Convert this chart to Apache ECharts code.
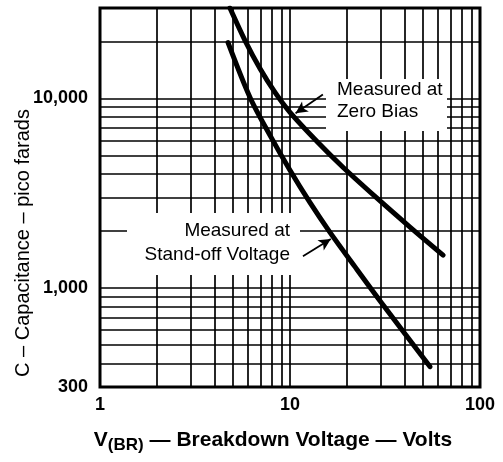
<!DOCTYPE html>
<html><head><meta charset="utf-8">
<script src="https://cdn.jsdelivr.net/npm/echarts@6/dist/echarts.min.js"></script>
<style>html,body{margin:0;padding:0;background:#fff}#c{width:503px;height:462px}</style>
</head><body><div id="c"></div>
<script>
// ---- data ----
const xTickValues = [1, 10, 100];
const xTickLabels = ['1', '10', '100'];
const yTickValues = [300, 1000, 10000];
const yTickLabels = ['300', '1,000', '10,000'];
const xGridValues = [2, 3, 4, 5, 6, 7, 8, 9, 10, 20, 30, 40, 50, 60, 70, 80, 90];
const yGridValues = [400, 500, 600, 700, 800, 900, 1000, 2000, 3000, 4000, 5000, 6000, 7000, 8000, 9000, 10000, 20000];
const zeroBiasV = [4.83, 5.8, 6.95, 8.34, 10, 14.0, 19.0, 28.7, 42.8, 63.9];
const zeroBiasC = [30000, 20200, 14380, 10750, 8440, 5867, 4334, 2976, 2095, 1490];
const standOffV = [4.72, 6.16, 7.85, 10, 12.7, 16.2, 22.0, 29.8, 54.6];
const standOffC = [19700, 10120, 6385, 4180, 2836, 1971, 1291, 854, 384];

const FONT = '"Liberation Sans", Arial, Helvetica, sans-serif';
const pair = (xs, ys) => xs.map((x, i) => [x, ys[i]]);
function fmt(values, labels) {
  return v => {
    for (let i = 0; i < values.length; i++) {
      if (Math.abs(v - values[i]) / values[i] < 1e-3) return labels[i];
    }
    return '';
  };
}
const gridLine = {color: '#000', width: 1.7, type: 'solid'};

const chart = echarts.init(document.getElementById('c'), null, {renderer: 'canvas'});
chart.setOption({
  animation: false,
  backgroundColor: '#fff',
  grid: {left: 100, right: 23, top: 8, bottom: 75, show: true, borderColor: '#000', borderWidth: 3, backgroundColor: 'transparent'},
  xAxis: {
    type: 'log', logBase: 10, min: 1, max: 100,
    axisLine: {show: false}, axisTick: {show: false}, splitLine: {show: false},
    axisLabel: {show: true, interval: 0, margin: 9, color: '#000', fontFamily: FONT, fontWeight: 'bold', fontSize: 18,
      formatter: fmt(xTickValues, xTickLabels), showMinLabel: true, showMaxLabel: true}
  },
  yAxis: {
    type: 'log', logBase: 10, min: 300, max: 30000,
    axisLine: {show: false}, axisTick: {show: false}, splitLine: {show: false},
    axisLabel: {show: true, interval: 0, margin: 12, color: '#000', fontFamily: FONT, fontWeight: 'bold', fontSize: 18,
      formatter: fmt(yTickValues, yTickLabels), showMinLabel: true, showMaxLabel: true}
  },
  series: [
    {
      name: 'grid', type: 'line', data: [], z: 1, silent: true,
      markLine: {
        silent: true, symbol: ['none', 'none'], label: {show: false}, lineStyle: gridLine, animation: false,
        data: xGridValues.map(v => ({xAxis: v})).concat(yGridValues.map(v => ({yAxis: v})))
      }
    },
    {
      name: 'Measured at Zero Bias', type: 'line', data: pair(zeroBiasV, zeroBiasC), smooth: 0.3,
      showSymbol: false, symbol: 'none', z: 3, clip: true,
      lineStyle: {color: '#000', width: 5, cap: 'round', join: 'round'}
    },
    {
      name: 'Measured at Stand-off Voltage', type: 'line', data: pair(standOffV, standOffC), smooth: 0.3,
      showSymbol: false, symbol: 'none', z: 3, clip: true,
      lineStyle: {color: '#000', width: 5, cap: 'round', join: 'round'}
    },
    {
      name: 'arrows', type: 'line', data: [], z: 4, silent: true,
      markLine: {
        silent: true, symbol: ['none', 'arrow'], symbolSize: [9, 12], label: {show: false},
        lineStyle: {color: '#000', width: 1.8, type: 'solid'}, animation: false,
        data: [
          [{coord: [14.9, 10500]}, {coord: [10.7, 8340]}],
          [{coord: [11.7, 1470]}, {coord: [16.4, 1810]}]
        ]
      }
    }
  ],
  graphic: [
    {type: 'rect', z: 50, shape: {x: 326, y: 79, width: 121, height: 52}, style: {fill: '#fff'}},
    {type: 'text', z: 51, x: 337, y: 90, style: {text: 'Measured at', fontFamily: FONT, fontSize: 19, fill: '#000', align: 'left', verticalAlign: 'middle'}},
    {type: 'text', z: 51, x: 337, y: 112, style: {text: 'Zero Bias', fontFamily: FONT, fontSize: 19, fill: '#000', align: 'left', verticalAlign: 'middle'}},
    {type: 'rect', z: 50, shape: {x: 127, y: 213, width: 173, height: 62}, style: {fill: '#fff'}},
    {type: 'text', z: 51, x: 290, y: 231, style: {text: 'Measured at', fontFamily: FONT, fontSize: 19, fill: '#000', align: 'right', verticalAlign: 'middle'}},
    {type: 'text', z: 51, x: 290, y: 255, style: {text: 'Stand-off Voltage', fontFamily: FONT, fontSize: 19, fill: '#000', align: 'right', verticalAlign: 'middle'}},
    {type: 'text', z: 51, x: 23, y: 243, rotation: Math.PI / 2,
      style: {text: 'C – Capacitance – pico farads', fontFamily: FONT, fontSize: 20, fill: '#000', align: 'center', verticalAlign: 'middle'}},
    {type: 'text', z: 51, x: 273, y: 440,
      style: {
        text: '{a|V}{s|(BR)}{a| — Breakdown Voltage — Volts}', align: 'center', verticalAlign: 'middle',
        rich: {
          a: {fontFamily: FONT, fontSize: 21, fontWeight: 'bold', fill: '#000', color: '#000', lineHeight: 24},
          s: {fontFamily: FONT, fontSize: 17, fontWeight: 'bold', fill: '#000', color: '#000', lineHeight: 24, padding: [10, 0, 0, 0]}
        }
      }}
  ]
});
</script></body></html>
